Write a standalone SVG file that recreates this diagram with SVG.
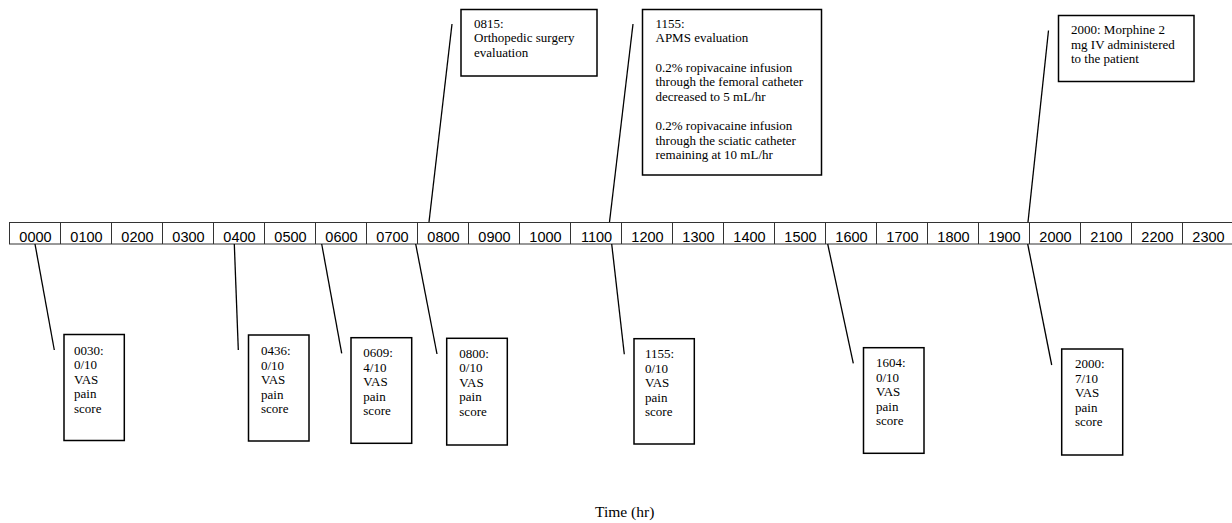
<svg xmlns="http://www.w3.org/2000/svg" width="1232" height="523" viewBox="0 0 1232 523">
<style>
.bg{fill:#fff}
.cell{fill:#fff;stroke:#333;stroke-width:1}
.tl{font-family:"Liberation Sans",Arial,sans-serif;font-size:14.5px;fill:#000;text-anchor:middle}
.box{fill:#fff;stroke:#000;stroke-width:1.5}
.t{font-family:"Liberation Serif","Times New Roman",serif;font-size:13px;fill:#000}
.conn line{stroke:#000;stroke-width:1.3}
.axis{font-family:"Liberation Serif","Times New Roman",serif;font-size:15.5px;fill:#000;text-anchor:middle}
</style>
<rect class="bg" x="0" y="0" width="1232" height="523"/>
<g id="timeline">
<rect class="cell" x="9.5" y="222.5" width="1224" height="21.5"/>
<g stroke="#333" stroke-width="1">
<line x1="60.5" y1="222.5" x2="60.5" y2="244"/>
<line x1="111.5" y1="222.5" x2="111.5" y2="244"/>
<line x1="162.5" y1="222.5" x2="162.5" y2="244"/>
<line x1="213.5" y1="222.5" x2="213.5" y2="244"/>
<line x1="264.5" y1="222.5" x2="264.5" y2="244"/>
<line x1="315.5" y1="222.5" x2="315.5" y2="244"/>
<line x1="366.5" y1="222.5" x2="366.5" y2="244"/>
<line x1="417.5" y1="222.5" x2="417.5" y2="244"/>
<line x1="468.5" y1="222.5" x2="468.5" y2="244"/>
<line x1="519.5" y1="222.5" x2="519.5" y2="244"/>
<line x1="570.5" y1="222.5" x2="570.5" y2="244"/>
<line x1="621.5" y1="222.5" x2="621.5" y2="244"/>
<line x1="672.5" y1="222.5" x2="672.5" y2="244"/>
<line x1="723.5" y1="222.5" x2="723.5" y2="244"/>
<line x1="774.5" y1="222.5" x2="774.5" y2="244"/>
<line x1="825.5" y1="222.5" x2="825.5" y2="244"/>
<line x1="876.5" y1="222.5" x2="876.5" y2="244"/>
<line x1="927.5" y1="222.5" x2="927.5" y2="244"/>
<line x1="978.5" y1="222.5" x2="978.5" y2="244"/>
<line x1="1029.5" y1="222.5" x2="1029.5" y2="244"/>
<line x1="1080.5" y1="222.5" x2="1080.5" y2="244"/>
<line x1="1131.5" y1="222.5" x2="1131.5" y2="244"/>
<line x1="1182.5" y1="222.5" x2="1182.5" y2="244"/>
</g>
<text class="tl" x="35.5" y="241.5">0000</text>
<text class="tl" x="86.5" y="241.5">0100</text>
<text class="tl" x="137.5" y="241.5">0200</text>
<text class="tl" x="188.5" y="241.5">0300</text>
<text class="tl" x="239.5" y="241.5">0400</text>
<text class="tl" x="290.5" y="241.5">0500</text>
<text class="tl" x="341.5" y="241.5">0600</text>
<text class="tl" x="392.5" y="241.5">0700</text>
<text class="tl" x="443.5" y="241.5">0800</text>
<text class="tl" x="494.5" y="241.5">0900</text>
<text class="tl" x="545.5" y="241.5">1000</text>
<text class="tl" x="596.5" y="241.5">1100</text>
<text class="tl" x="647.5" y="241.5">1200</text>
<text class="tl" x="698.5" y="241.5">1300</text>
<text class="tl" x="749.5" y="241.5">1400</text>
<text class="tl" x="800.5" y="241.5">1500</text>
<text class="tl" x="851.5" y="241.5">1600</text>
<text class="tl" x="902.5" y="241.5">1700</text>
<text class="tl" x="953.5" y="241.5">1800</text>
<text class="tl" x="1004.5" y="241.5">1900</text>
<text class="tl" x="1055.5" y="241.5">2000</text>
<text class="tl" x="1106.5" y="241.5">2100</text>
<text class="tl" x="1157.5" y="241.5">2200</text>
<text class="tl" x="1208.5" y="241.5">2300</text>
</g>
<g id="connectors" class="conn">
<line x1="429" y1="222" x2="452" y2="24"/>
<line x1="609.5" y1="222" x2="633" y2="24"/>
<line x1="1028" y1="222" x2="1048.5" y2="30.5"/>
<line x1="35" y1="244" x2="54.3" y2="350"/>
<line x1="234.3" y1="244" x2="238.3" y2="350"/>
<line x1="321.7" y1="244" x2="341.7" y2="353.3"/>
<line x1="415.7" y1="244" x2="437" y2="354"/>
<line x1="611.7" y1="244" x2="624.3" y2="354.3"/>
<line x1="827.7" y1="244" x2="853.3" y2="363.3"/>
<line x1="1027.7" y1="244" x2="1051.7" y2="365"/>
</g>
<g id="n0815">
<rect class="box" x="461" y="9.5" width="136" height="66.5"/>
<text class="t" x="474" y="27.5">0815:</text>
<text class="t" x="474" y="42.1">Orthopedic surgery</text>
<text class="t" x="474" y="56.7">evaluation</text>
</g>
<g id="n1155top">
<rect class="box" x="642.5" y="9.5" width="179" height="165.5"/>
<text class="t" x="655.5" y="27.7">1155:</text>
<text class="t" x="655.5" y="42.3">APMS evaluation</text>
<text class="t" x="655.5" y="71.5">0.2% ropivacaine infusion</text>
<text class="t" x="655.5" y="86.1">through the femoral catheter</text>
<text class="t" x="655.5" y="100.7">decreased to 5 mL/hr</text>
<text class="t" x="655.5" y="129.9">0.2% ropivacaine infusion</text>
<text class="t" x="655.5" y="144.5">through the sciatic catheter</text>
<text class="t" x="655.5" y="159.1">remaining at 10 mL/hr</text>
</g>
<g id="n2000top">
<rect class="box" x="1058.5" y="15.5" width="135.5" height="66"/>
<text class="t" x="1071" y="34">2000: Morphine 2</text>
<text class="t" x="1071" y="48.6">mg IV administered</text>
<text class="t" x="1071" y="63.2">to the patient</text>
</g>
<g id="n0030">
<rect class="box" x="64" y="334.5" width="60.3" height="106"/>
<text class="t" x="74" y="354.5">0030:</text>
<text class="t" x="74" y="369">0/10</text>
<text class="t" x="74" y="383.5">VAS</text>
<text class="t" x="74" y="398">pain</text>
<text class="t" x="74" y="412.5">score</text>
</g>
<g id="n0436">
<rect class="box" x="248.5" y="335" width="60.5" height="106"/>
<text class="t" x="261" y="355">0436:</text>
<text class="t" x="261" y="369.5">0/10</text>
<text class="t" x="261" y="384">VAS</text>
<text class="t" x="261" y="398.5">pain</text>
<text class="t" x="261" y="413">score</text>
</g>
<g id="n0609">
<rect class="box" x="351" y="337.7" width="60.7" height="105.6"/>
<text class="t" x="363.3" y="357.2">0609:</text>
<text class="t" x="363.3" y="371.7">4/10</text>
<text class="t" x="363.3" y="386.2">VAS</text>
<text class="t" x="363.3" y="400.7">pain</text>
<text class="t" x="363.3" y="415.2">score</text>
</g>
<g id="n0800">
<rect class="box" x="446.7" y="338.3" width="60.6" height="106.7"/>
<text class="t" x="459.3" y="357.8">0800:</text>
<text class="t" x="459.3" y="372.3">0/10</text>
<text class="t" x="459.3" y="386.8">VAS</text>
<text class="t" x="459.3" y="401.3">pain</text>
<text class="t" x="459.3" y="415.8">score</text>
</g>
<g id="n1155">
<rect class="box" x="634" y="338.7" width="60.3" height="105.3"/>
<text class="t" x="645" y="358.3">1155:</text>
<text class="t" x="645" y="372.8">0/10</text>
<text class="t" x="645" y="387.3">VAS</text>
<text class="t" x="645" y="401.8">pain</text>
<text class="t" x="645" y="416.3">score</text>
</g>
<g id="n1604">
<rect class="box" x="863.5" y="347.7" width="60.5" height="105.6"/>
<text class="t" x="876" y="367.3">1604:</text>
<text class="t" x="876" y="381.8">0/10</text>
<text class="t" x="876" y="396.3">VAS</text>
<text class="t" x="876" y="410.8">pain</text>
<text class="t" x="876" y="425.3">score</text>
</g>
<g id="n2000">
<rect class="box" x="1061.7" y="349" width="61" height="106"/>
<text class="t" x="1075" y="368.3">2000:</text>
<text class="t" x="1075" y="382.8">7/10</text>
<text class="t" x="1075" y="397.3">VAS</text>
<text class="t" x="1075" y="411.8">pain</text>
<text class="t" x="1075" y="426.3">score</text>
</g>
<text class="axis" x="624.7" y="517">Time (hr)</text>
</svg>
